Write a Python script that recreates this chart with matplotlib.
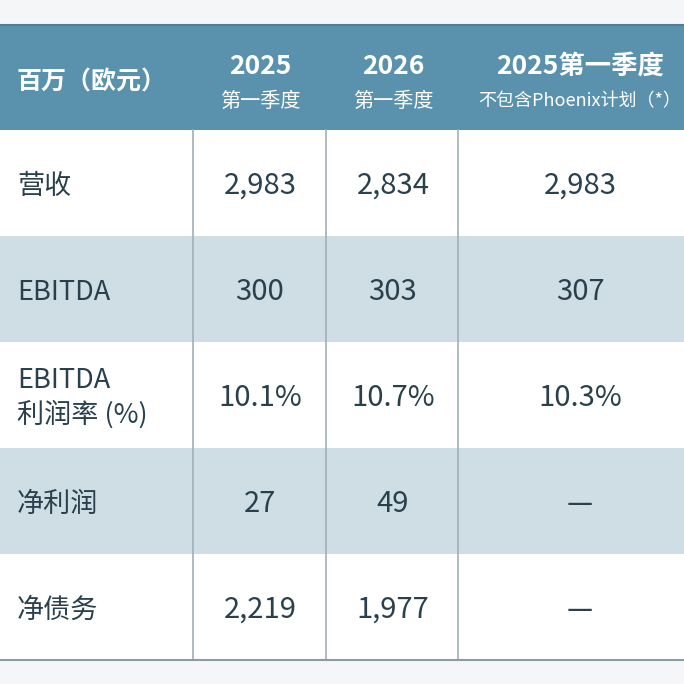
import matplotlib
matplotlib.use("Agg")
import matplotlib.pyplot as plt
from matplotlib.patches import Rectangle

plt.rcParams['font.family'] = ['Noto Sans CJK SC', 'DejaVu Sans']

# ---- data ----
header_label = "百万（欧元）"
col_titles = ["2025", "2026", "2025第一季度"]
col_subtitles = ["第一季度", "第一季度", "不包含Phoenix计划（*）"]
row_labels = ["营收", "EBITDA", "EBITDA\n利润率 (%)", "净利润", "净债务"]
q1_2025 = ["2,983", "300", "10.1%", "27", "2,219"]
q1_2026 = ["2,834", "303", "10.7%", "49", "1,977"]
q1_2025_ex_phoenix = ["2,983", "307", "10.3%", "—", "—"]

# ---- style ----
W = H = 684
header_col = "#5a92ad"
shade_col = "#cfdee4"
text_col = "#2a404c"
line_col = "#9fb0b8"
bg_col = "#f5f6f7"

fig = plt.figure(figsize=(6.84, 6.84), dpi=100, facecolor=bg_col)
ax = fig.add_axes([0, 0, 1, 1])
ax.set_xlim(0, W)
ax.set_ylim(H, 0)
ax.axis("off")

header_top, header_bot = 25, 130
row_h = 106
col_edges = [0, 193, 326, 458, W]
col_centers = [260, 393, 580]

# header band
ax.add_patch(Rectangle((0, header_top), W, header_bot - header_top,
                       facecolor=header_col, edgecolor="none"))
ax.plot([0, W], [header_top, header_top], color="#4f7f96", lw=1.5)
ax.text(17, 83, header_label, color="white", fontsize=18, fontweight="bold",
        ha="left", va="center")
for i, (t, s) in enumerate(zip(col_titles, col_subtitles)):
    ax.text(col_centers[i], 66, t, color="white", fontsize=19, fontweight="bold",
            ha="center", va="center")
    ax.text(col_centers[i], 101, s, color="white",
            fontsize=14.5 if i < 2 else 13, ha="center", va="center")

# rows
columns = [q1_2025, q1_2026, q1_2025_ex_phoenix]
n = len(row_labels)
for r in range(n):
    y0 = header_bot + r * row_h
    face = shade_col if r % 2 == 1 else "white"
    ax.add_patch(Rectangle((0, y0), W, row_h, facecolor=face, edgecolor="none"))
    yc = y0 + row_h / 2 + 3
    ax.text(17, yc, row_labels[r], color=text_col, fontsize=19.5,
            ha="left", va="center", linespacing=1.3)
    for c, vals in enumerate(columns):
        ax.text(col_centers[c], yc, vals[r], color=text_col, fontsize=21,
                ha="center", va="center")

table_bot = header_bot + n * row_h
# vertical lines
for x in col_edges[1:4]:
    ax.plot([x, x], [header_bot, table_bot], color=line_col, lw=1.2)
ax.plot([0, W], [table_bot, table_bot], color="#8c9aa2", lw=1.5)

fig.savefig("out.png", dpi=100, facecolor=fig.get_facecolor())
